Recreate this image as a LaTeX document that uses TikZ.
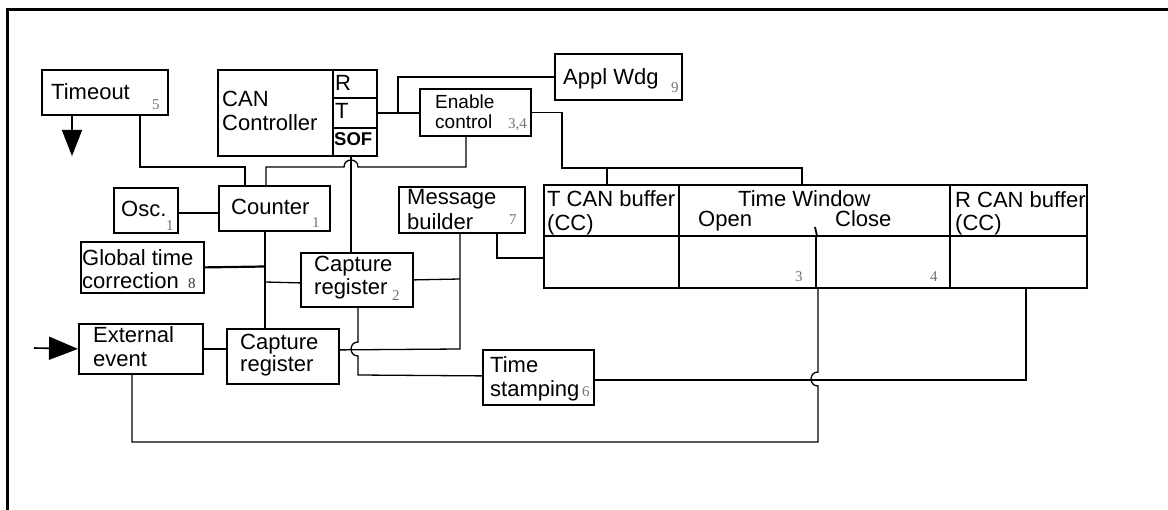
\documentclass[tikz,border=0pt]{standalone}
\usepackage{fontspec}
\setmainfont{Liberation Sans}
\newfontfamily\numfont{Liberation Serif}
\usetikzlibrary{arrows.meta}
\begin{document}
\begin{tikzpicture}[x=1pt,y=-1pt,
  box/.style={draw, line width=1.8pt, inner sep=0pt, anchor=north west},
  wire/.style={line width=1.3pt},
  thickwire/.style={line width=2.2pt},
  lbl/.style={anchor=base west, inner sep=0pt, font=\fontsize{22}{24}\selectfont},
  smalllbl/.style={anchor=base west, inner sep=0pt, font=\fontsize{19}{21}\selectfont},
  num/.style={anchor=base west, inner sep=0pt, text=black!55, font=\numfont\fontsize{15}{17}\selectfont},
  bigarrow/.style={line width=1.6pt, -{Triangle[length=26pt,width=20pt]}},
  bigarrowh/.style={line width=1.6pt, -{Triangle[length=29pt,width=23pt]}},
]
\useasboundingbox (0,0) rectangle (1168,510);
\draw[line width=3pt] (7,510) -- (7,10) -- (1168,10);

% boxes
\node[box, minimum width=126pt, minimum height=45pt] (timeout) at (41,69) {};
\node[box, minimum width=115pt, minimum height=86pt] (canc) at (217,69) {};
\node[box, minimum width=44pt, minimum height=28pt] (rcell) at (332,69) {};
\node[box, minimum width=44pt, minimum height=30pt] (tcell) at (332,97) {};
\node[box, minimum width=44pt, minimum height=28pt] (sof) at (332,127) {};
\node[box, minimum width=111pt, minimum height=47pt] (enable) at (419,88) {};
\node[box, minimum width=127pt, minimum height=46pt] (appl) at (554,53) {};
\node[box, minimum width=64pt, minimum height=45pt] (osc) at (113,187) {};
\node[box, minimum width=111pt, minimum height=45pt] (counter) at (218,185) {};
\node[box, minimum width=123pt, minimum height=51pt] (glob) at (80,241) {};
\node[box, minimum width=112pt, minimum height=54pt] (cap2) at (300,252) {};
\node[box, minimum width=124pt, minimum height=50pt] (ext) at (78,323) {};
\node[box, minimum width=112pt, minimum height=55pt] (cap1) at (226,328) {};
\node[box, minimum width=126pt, minimum height=46pt] (msg) at (398,186) {};
\node[box, minimum width=111pt, minimum height=55pt] (stamp) at (482,349) {};
% table
\node[box, minimum width=135pt, minimum height=51pt] (tcanh) at (543,184) {};
\node[box, minimum width=135pt, minimum height=52pt] (tcanl) at (543,235) {};
\node[box, minimum width=271pt, minimum height=51pt] (twh) at (678,184) {};
\node[box, minimum width=137pt, minimum height=52pt] (openl) at (678,235) {};
\node[box, minimum width=134pt, minimum height=52pt] (closel) at (815,235) {};
\node[box, minimum width=137pt, minimum height=51pt] (rcanh) at (949,184) {};
\node[box, minimum width=137pt, minimum height=52pt] (rcanl) at (949,235) {};
\draw[line width=1.8pt] (815,227) -- (openl.north east);

% texts
\node[lbl] at (51,100) {Timeout};
\node[num] at (152,110) {5};
\node[lbl] at (222,107) {CAN};
\node[lbl] at (222,131) {Controller};
\node[lbl] at (335,91) {R};
\node[lbl] at (335,119) {T};
\node[anchor=base west, inner sep=0pt, font=\bfseries\fontsize{18.5}{20}\selectfont] at (334,146) {SOF};
\node[smalllbl] at (435,109) {Enable};
\node[smalllbl] at (435,129) {control};
\node[num] at (508,129) {3,4};
\node[lbl] at (563,85) {Appl Wdg};
\node[num] at (671,93) {9};
\node[lbl] at (121,217) {Osc.};
\node[num] at (166,231) {1};
\node[lbl] at (231,215) {Counter};
\node[num] at (312,228) {1};
\node[lbl] at (82,266) {Global time};
\node[lbl] at (82,289) {correction};
\node[num, text=black!80] at (188,289) {8};
\node[lbl] at (314,272) {Capture};
\node[lbl] at (314,295) {register};
\node[num] at (392,301) {2};
\node[lbl] at (93,343) {External};
\node[lbl] at (93,367) {event};
\node[lbl] at (240,350) {Capture};
\node[lbl] at (240,372) {register};
\node[lbl] at (407,205) {Message};
\node[lbl] at (407,230) {builder};
\node[num] at (509,225) {7};
\node[lbl] at (490,373) {Time};
\node[lbl] at (490,397) {stamping};
\node[num] at (582,397) {6};
\node[lbl] at (547,207) {T CAN buffer};
\node[lbl] at (547,231) {(CC)};
\node[lbl] at (738,207) {Time Window};
\node[lbl] at (698,227) {Open};
\node[lbl] at (835,227) {Close};
\node[num] at (795,282) {3};
\node[num] at (930,282) {4};
\node[lbl] at (955,208) {R CAN buffer};
\node[lbl] at (955,231) {(CC)};

% connectors
\coordinate (toutarrow) at (72,156);
\draw[bigarrow] ([xshift=31pt]timeout.south west) -- (toutarrow);
\draw[wire] ([xshift=99pt]timeout.south west) |- (245,167) -- ([xshift=27pt]counter.north west);
\draw[wire] ([xshift=48pt]counter.north west) -- (266,167) -- (344,167)
   .. controls (344,157.7) and (358,157.7) .. (358,167) -- (466,167) -- ([xshift=47pt]enable.south west);
\draw[thickwire] ([xshift=19pt]sof.south west) -- ([xshift=51pt]cap2.north west);
\draw[wire] (tcell.east) -- (tcell.east -| enable.west);
\coordinate (tjunc) at (398,112);
\draw[wire] (tjunc) |- (appl.west);
\draw[wire] (enable.east) -| (562,168) -| ([xshift=124pt]twh.north west);
\draw[wire] (607,168) -- ([xshift=64pt]tcanh.north west);
\draw[thickwire] ([yshift=-2.5pt]osc.east) -- ([yshift=-2.5pt]osc.east -| counter.west);
\draw[wire] ([xshift=47pt]counter.south west) -- ([xshift=39pt]cap1.north west);
\draw[thickwire] (glob.east) -- (265,266.5);
\draw[wire] (265,282) -- ([yshift=-3pt]cap2.west);
\draw[wire] (cap2.east) -- (460,279);
\draw[wire] ([xshift=62pt]msg.south west) -- (460,349) -- ([yshift=6.5pt]cap1.east);
\draw[wire] ([xshift=58pt]cap2.south west) -- (358,342)
   .. controls (348.7,342) and (348.7,356) .. (358,356) -- (358,375) -- ([yshift=1.5pt]stamp.west);
\draw[wire] ([xshift=99pt]msg.south west) |- ([yshift=4pt]tcanl.west);
\draw[wire] (ext.east) -- (ext.east -| cap1.west);
\coordinate (extin) at (34,348);
\draw[bigarrowh] (extin) -- (ext.west);
\draw[wire] ([xshift=54pt]ext.south west) -- (132,442) -- (818,442) -- (818,386)
   .. controls (808.7,386) and (808.7,372) .. (818,372) -- ([xshift=3pt]closel.south west);
\draw[wire] ([yshift=-2.5pt]stamp.east) -| ([xshift=77pt]rcanl.south west);
\end{tikzpicture}
\end{document}
